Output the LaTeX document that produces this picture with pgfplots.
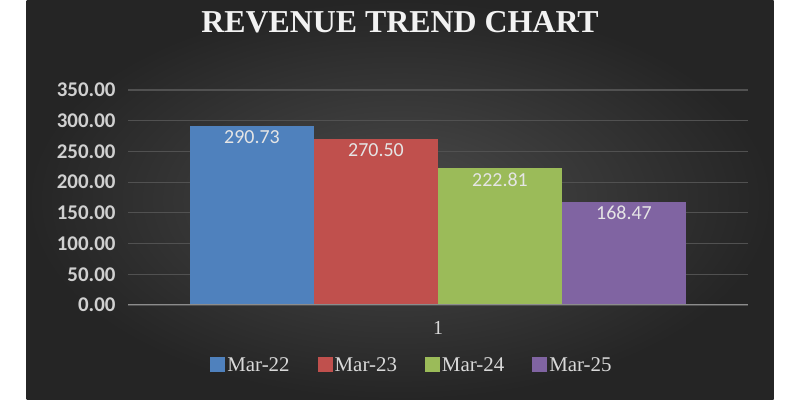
\documentclass[border=0pt]{standalone}
\usepackage{pgfplots}
\pgfplotsset{compat=1.18}
\usepackage{fontspec}
\setmainfont{Liberation Serif}
\newfontfamily\calib{Carlito}

\definecolor{panelin}{HTML}{4A4A4A}
\definecolor{panelout}{HTML}{252525}
\definecolor{gridc}{HTML}{515151}
\definecolor{axc}{HTML}{8C8C8C}
\definecolor{txt}{HTML}{D9D9D9}
\definecolor{ticktxt}{HTML}{D0D0D0}
\definecolor{c1}{HTML}{4F81BD}
\definecolor{c2}{HTML}{C0504D}
\definecolor{c3}{HTML}{9BBB59}
\definecolor{c4}{HTML}{8064A2}

\begin{document}
\begin{tikzpicture}
% page and dark chart panel
\path[fill=white] (0bp,0bp) rectangle (800bp,400bp);
\shade[inner color=panelin, outer color=panelout] (26.5bp,0bp) rectangle (773.5bp,400bp);
\node[text=white!95!black] at (400bp,378bp)
  {\fontsize{32}{36}\selectfont\bfseries REVENUE TREND CHART};

\begin{axis}[
  at={(128bp,95bp)}, anchor=south west,
  scale only axis, width=620bp, height=215bp,
  xmin=0.5, xmax=1.5, ymin=0, ymax=350,
  ytick={0,50,...,350},
  xtick={1}, xticklabels={1},
  ymajorgrids, grid style={gridc, line width=1.1bp},
  axis line style={draw=none},
  major tick length=0pt, tick style={draw=none},
  /pgf/number format/assume math mode=true,
  yticklabel style={font=\calib\bfseries\fontsize{21}{24}\selectfont, text=ticktxt,
    xshift=-9bp, /pgf/number format/.cd, fixed, fixed zerofill, precision=2},
  xticklabel style={font=\fontsize{20}{24}\selectfont, text=txt, yshift=-13bp},
  ybar, bar width=0.2, bar shift=0pt,
  nodes near coords={\pgfmathprintnumber[fixed,fixed zerofill,precision=2]{\pgfplotspointmeta}},
  every node near coord/.append style={font=\calib\fontsize{20}{24}\selectfont,
    text=white!90!black, anchor=north, yshift=-1bp},
  legend columns=4,
  legend style={at={(0.458,-0.279)}, anchor=center, draw=none, fill=none,
    font=\fontsize{21}{24}\selectfont, text=txt,
    /tikz/every even column/.append style={column sep=26bp}},
  legend image code/.code={\path[#1,draw=none] (0bp,-7.5bp) rectangle (15bp,7.5bp);},
]
\addplot[fill=c1, draw=none] coordinates {(0.7,290.73)};
\addplot[fill=c2, draw=none] coordinates {(0.9,270.50)};
\addplot[fill=c3, draw=none] coordinates {(1.1,222.81)};
\addplot[fill=c4, draw=none] coordinates {(1.3,168.47)};
\legend{Mar-22, Mar-23, Mar-24, Mar-25}
\draw[axc, line width=2bp] (rel axis cs:0,0) -- (rel axis cs:1,0);
\end{axis}
\end{tikzpicture}
\end{document}
